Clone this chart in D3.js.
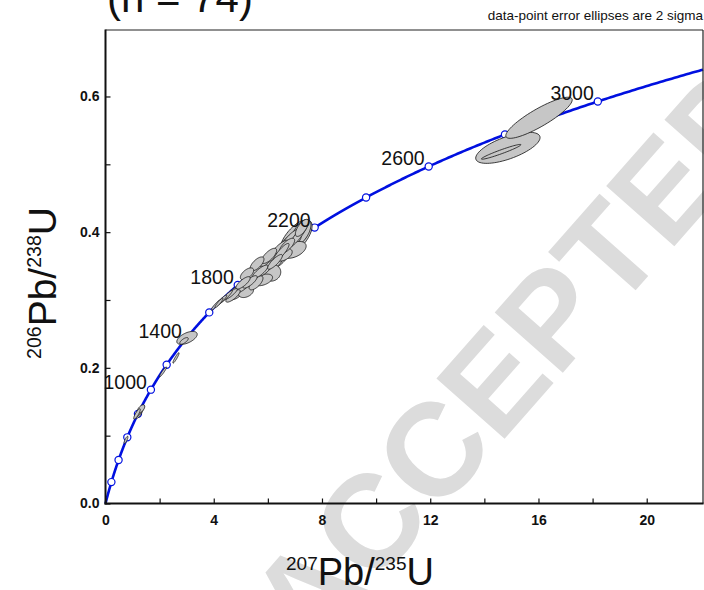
<!DOCTYPE html>
<html><head><meta charset="utf-8">
<script src="https://cdn.jsdelivr.net/npm/d3@7"></script>
<style>
body{margin:0;background:#fff}
svg{display:block}
text{font-family:"Liberation Sans",Arial,Helvetica,sans-serif}
</style>
</head><body>
<svg id="chart" width="704" height="590"></svg>
<script>
// ---------------- data ----------------
const titleText = "(n = 74)";
const noteText = "data-point error ellipses are 2 sigma";
const xTickValues = [0, 2, 4, 6, 8, 10, 12, 14, 16, 18, 20];
const xTickLabels = ["0", "", "4", "", "8", "", "12", "", "16", "", "20"];
const yTickValues = [0.0, 0.1, 0.2, 0.3, 0.4, 0.5, 0.6];
const yTickLabels = ["0.0", "", "0.2", "", "0.4", "", "0.6"];
const xDomain = [0, 22.08];
const yDomain = [0, 0.698];

// concordia (decay constants, per year) and age markers (Ma)
const lambda238 = 1.55125e-10;
const lambda235 = 9.8485e-10;
const markerAges = [200, 400, 600, 800, 1000, 1200, 1400, 1600, 1800, 2000, 2200, 2400, 2600, 2800, 3000];
const labelAges = [1000, 1400, 1800, 2200, 2600, 3000];

// data-point error ellipses: 207Pb/235U, 206Pb/238U, 2-sigma errors, error correlation
const ellX   = [7.040, 7.225, 6.781, 6.560, 6.966, 6.338, 6.116, 6.153, 5.820, 5.673, 5.414, 5.820, 5.266, 5.007, 4.823, 5.192, 5.562,
                5.968, 6.486, 6.707, 7.114, 6.264, 5.710, 5.340, 4.084, 4.268, 4.453, 4.194, 4.638, 5.081, 6.042, 5.599, 5.229,
                6.818, 6.412, 6.005, 5.525, 5.118, 7.262, 6.596, 4.712,
                1.164, 1.275, 1.312, 1.238, 0.758, 2.125, 2.605, 3.012, 2.901,
                16.02, 14.87, 14.62];
const ellY   = [0.3916, 0.3990, 0.3827, 0.3709, 0.3739, 0.3591, 0.3532, 0.3400, 0.3473, 0.3370, 0.3326, 0.3296, 0.3223, 0.3164, 0.3105, 0.3119, 0.3252,
                0.3473, 0.3695, 0.3798, 0.3945, 0.3562, 0.3414, 0.3267, 0.2928, 0.2987, 0.3046, 0.2957, 0.3090, 0.3252, 0.3650, 0.3532, 0.3385,
                0.3886, 0.3739, 0.3562, 0.3385, 0.3208, 0.4063, 0.3665, 0.3060,
                0.1320, 0.1364, 0.1394, 0.1335, 0.0937, 0.1940, 0.2146, 0.2441, 0.2397,
                0.5686, 0.5243, 0.5184];
const ellSx  = [0.594, 0.367, 0.464, 0.507, 0.449, 0.448, 0.442, 0.324, 0.421, 0.405, 0.368, 0.353, 0.356, 0.333, 0.321, 0.279, 0.257,
                0.323, 0.297, 0.282, 0.330, 0.273, 0.292, 0.265, 0.176, 0.213, 0.238, 0.146, 0.232, 0.265, 0.282, 0.257, 0.246,
                0.363, 0.355, 0.344, 0.326, 0.292, 0.244, 0.303, 0.265,
                0.121, 0.160, 0.138, 0.137, 0.071, 0.131, 0.115, 0.377, 0.157,
                1.227, 1.189, 0.730];
const ellSy  = [0.0266, 0.0195, 0.0171, 0.0160, 0.0124, 0.0158, 0.0139, 0.0122, 0.0149, 0.0126, 0.0132, 0.0086, 0.0118, 0.0119, 0.0104, 0.0083, 0.0103,
                0.0129, 0.0139, 0.0112, 0.0165, 0.0109, 0.0101, 0.0092, 0.0078, 0.0085, 0.0095, 0.0069, 0.0079, 0.0092, 0.0112, 0.0103, 0.0088,
                0.0158, 0.0142, 0.0126, 0.0114, 0.0101, 0.0126, 0.0092, 0.0092,
                0.0077, 0.0086, 0.0061, 0.0079, 0.0054, 0.0073, 0.0077, 0.0096, 0.0049,
                0.0303, 0.0229, 0.0109];
const ellRho = [0.65, 0.60, 0.75, 0.66, 0.45, 0.72, 0.67, 0.10, 0.68, 0.44, 0.59, 0.43, 0.52, 0.65, 0.58, 0.35, 0.67,
                0.88, 0.88, 0.72, 0.91, 0.84, 0.83, 0.79, 0.94, 0.93, 0.95, 0.92, 0.88, 0.79, 0.72, 0.67, 0.59,
                0.85, 0.83, 0.80, 0.76, 0.83, 0.70, 0.47, 0.79,
                0.85, 0.83, 0.59, 0.65, 0.81, 0.94, 0.93, 0.56, 0.70,
                0.87, 0.66, 0.96];

// ---------------- chart ----------------
const svg = d3.select("#chart");
const pLeft = 105.5, pRight = 703, pTop = 30, pBottom = 503.5;
const x = d3.scaleLinear().domain(xDomain).range([pLeft, pRight]);
const y = d3.scaleLinear().domain(yDomain).range([pBottom, pTop]);

// watermark
svg.append("text")
  .attr("transform", "translate(514,356) rotate(-48.6)")
  .attr("text-anchor", "middle")
  .attr("dy", "0.36em")
  .style("font-size", "132px").style("font-weight", "bold")
  .attr("fill", "#dcdcdc")
  .text("ACCEPTED");

// title and note
svg.append("text").attr("x", 107).attr("y", 12)
  .style("font-size", "42px").attr("fill", "#111").text(titleText);
svg.append("text").attr("x", 703).attr("y", 20).attr("text-anchor", "end")
  .style("font-size", "13.5px").attr("fill", "#111").text(noteText);

// concordia curve
const tMax = Math.log(1 + xDomain[1]) / lambda235 / 1e6;
const ages = d3.range(0, tMax, 5).concat([tMax]);
const conc = a => [Math.exp(lambda235 * a * 1e6) - 1, Math.exp(lambda238 * a * 1e6) - 1];
const line = d3.line().x(d => x(d[0])).y(d => y(d[1]));
svg.append("path").datum(ages.map(conc)).attr("d", line)
  .attr("fill", "none").attr("stroke", "#0010e0").attr("stroke-width", 2.6);
svg.selectAll("circle.m").data(markerAges).enter().append("circle")
  .attr("class", "m")
  .attr("cx", a => x(conc(a)[0])).attr("cy", a => y(conc(a)[1]))
  .attr("r", 3.6).attr("fill", "#fff").attr("stroke", "#0010e0").attr("stroke-width", 1.2);

// ellipses
const ell = ellX.map((cx, i) => ({cx, cy: ellY[i], sx: ellSx[i], sy: ellSy[i], rho: ellRho[i]}));
const ellLine = d3.line().x(d => x(d[0])).y(d => y(d[1])).curve(d3.curveLinearClosed);
function ellPts(e) {
  const pts = [];
  const k = Math.sqrt(1 - e.rho * e.rho);
  for (let j = 0; j < 72; j++) {
    const t = j / 72 * 2 * Math.PI;
    pts.push([e.cx + e.sx * Math.cos(t), e.cy + e.sy * (e.rho * Math.cos(t) + k * Math.sin(t))]);
  }
  return pts;
}
const area = e => e.sx * e.sy * Math.sqrt(1 - e.rho * e.rho);
const ellSorted = ell.slice().sort((a, b) => area(b) - area(a));
svg.append("g").selectAll("path").data(ellSorted).enter().append("path")
  .attr("d", e => ellLine(ellPts(e)))
  .attr("fill", "#c6c6c6").attr("stroke", "#111").attr("stroke-width", 0.8);

// age labels
svg.selectAll("text.age").data(labelAges).enter().append("text")
  .attr("class", "age")
  .attr("x", a => x(conc(a)[0]) - 4).attr("y", a => y(conc(a)[1]) - 1)
  .attr("text-anchor", "end").style("font-size", "19.5px").attr("fill", "#111")
  .text(a => a);

// axes
const xAxis = d3.axisBottom(x).tickValues(xTickValues).tickSize(-5).tickPadding(12)
  .tickFormat((d, i) => xTickLabels[i]);
const gx = svg.append("g").attr("transform", `translate(0,${pBottom})`).call(xAxis);
const yAxis = d3.axisLeft(y).tickValues(yTickValues).tickSize(-5).tickPadding(6)
  .tickFormat((d, i) => yTickLabels[i]);
const gy = svg.append("g").attr("transform", `translate(${pLeft},0)`).call(yAxis);
[gx, gy].forEach(g => {
  g.select(".domain").remove();
  g.selectAll(".tick line").attr("stroke", "#111").attr("stroke-width", 1.2);
  g.selectAll(".tick text").style("font-size", "14px").style("font-weight", "bold")
    .style("font-family", "'Liberation Sans', Arial, sans-serif").attr("fill", "#111");
});
// frame
svg.append("line").attr("x1", pLeft).attr("x2", pRight).attr("y1", pTop).attr("y2", pTop).attr("stroke", "#222").attr("stroke-width", 1.2);
svg.append("line").attr("x1", pRight).attr("x2", pRight).attr("y1", pTop).attr("y2", pBottom).attr("stroke", "#222").attr("stroke-width", 1.2);
svg.append("line").attr("x1", pLeft).attr("x2", pLeft).attr("y1", pTop - 0.6).attr("y2", pBottom + 1).attr("stroke", "#111").attr("stroke-width", 2);
svg.append("line").attr("x1", pLeft - 1).attr("x2", pRight + 0.6).attr("y1", pBottom).attr("y2", pBottom).attr("stroke", "#111").attr("stroke-width", 2);

// axis titles
const xt = svg.append("text").attr("x", 360).attr("y", 585).attr("text-anchor", "middle").attr("fill", "#111");
xt.append("tspan").style("font-size", "19px").text("207");
xt.append("tspan").style("font-size", "38px").text("Pb/");
xt.append("tspan").style("font-size", "19px").text("235");
xt.append("tspan").style("font-size", "38px").text("U");
xt.selectAll("tspan").filter((d, i) => i % 2 === 0).attr("baseline-shift", "15");

const yt = svg.append("text").attr("transform", "translate(56,283) rotate(-90)").attr("text-anchor", "middle").attr("fill", "#111");
yt.append("tspan").style("font-size", "19.5px").text("206");
yt.append("tspan").style("font-size", "39px").text("Pb/");
yt.append("tspan").style("font-size", "19.5px").text("238");
yt.append("tspan").style("font-size", "39px").text("U");
yt.selectAll("tspan").filter((d, i) => i % 2 === 0).attr("baseline-shift", "15");
</script>
</body></html>
